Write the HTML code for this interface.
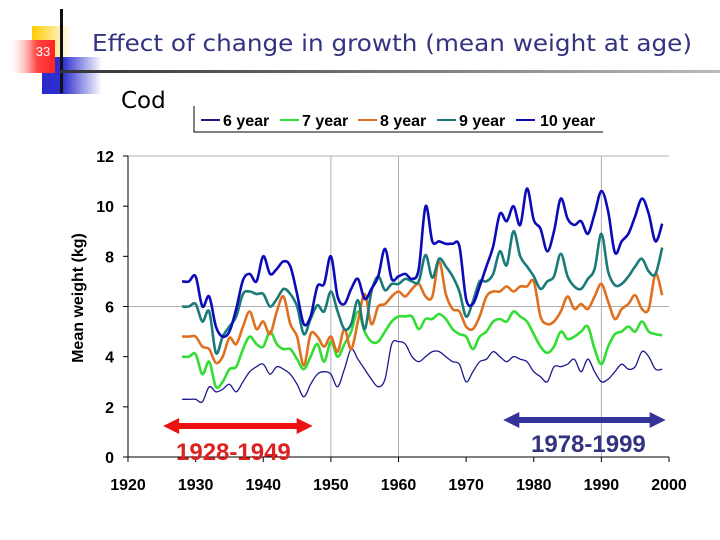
<!DOCTYPE html>
<html><head><meta charset="utf-8"><style>
body{margin:0;background:#fff;width:720px;height:540px;overflow:hidden}
svg{display:block}
text{font-family:"Liberation Sans",Arial,sans-serif}
</style></head><body>
<svg id="s" width="720" height="540" viewBox="0 0 720 540">
<defs>
<linearGradient id="gr" x1="0" x2="1"><stop offset="0" stop-color="#fff" stop-opacity="0.2"/><stop offset="0.6" stop-color="#f44"/><stop offset="1" stop-color="#f22"/></linearGradient>
<linearGradient id="gb" x1="0" x2="1"><stop offset="0" stop-color="#2a2acc"/><stop offset="0.35" stop-color="#3030d0"/><stop offset="1" stop-color="#fff"/></linearGradient>
<linearGradient id="gy" x1="0" x2="1"><stop offset="0" stop-color="#fc0"/><stop offset="1" stop-color="#fff"/></linearGradient>
<linearGradient id="gl" x1="0" x2="1"><stop offset="0" stop-color="#333"/><stop offset="1" stop-color="#bbb"/></linearGradient>
</defs>
<g>
<rect x="32" y="26" width="40" height="32" fill="url(#gy)"/>
<rect x="42" y="57" width="60" height="37" fill="url(#gb)"/>
<rect x="10" y="40" width="45" height="33" fill="url(#gr)"/>
<rect x="60" y="9" width="3" height="84" fill="#111"/>
<rect x="60" y="70" width="660" height="3" fill="url(#gl)"/>
<text x="43" y="56" font-size="13" fill="#fff" text-anchor="middle">33</text>
</g>
<text x="92" y="51" font-size="23" fill="#333380" textLength="600" lengthAdjust="spacingAndGlyphs" style="font-family:'DejaVu Sans',sans-serif">Effect of change in growth (mean weight at age)</text>
<text x="121" y="108" font-size="23" fill="#000" style="font-family:'DejaVu Sans',sans-serif">Cod</text>
<g>
<path d="M194 106V132H603" fill="none" stroke="#000" stroke-width="1"/>
</g>
<g id="plot"></g>
</svg>
<script>
const years=[];for(let y=1928;y<=1999;y++)years.push(y);
const seriesNames=["6 year","7 year","8 year","9 year","10 year"];
const w6=[2.3,2.3,2.3,2.2,2.8,2.6,2.7,2.9,2.6,3.0,3.4,3.6,3.7,3.3,3.6,3.5,3.3,2.9,2.4,2.9,3.3,3.4,3.3,2.8,3.5,4.3,3.9,3.5,3.1,2.8,3.1,4.5,4.6,4.5,4.0,3.8,4.0,4.2,4.2,4.0,3.8,3.7,3.0,3.4,3.8,3.9,4.2,4.0,3.8,4.0,3.9,3.8,3.4,3.2,3.0,3.6,3.6,3.7,3.9,3.4,3.9,3.4,3.0,3.1,3.4,3.7,3.5,3.6,4.2,4.0,3.5,3.5];
const w7=[4.0,4.0,4.1,3.3,3.8,2.8,3.0,3.5,3.6,4.3,4.8,4.5,4.4,5.0,4.5,4.3,4.3,3.9,3.5,4.0,4.5,3.8,4.6,4.0,4.5,5.0,5.8,5.0,4.6,4.6,5.0,5.4,5.6,5.6,5.6,5.1,5.5,5.5,5.7,5.5,5.1,4.9,4.8,4.3,4.8,5.0,5.4,5.5,5.4,5.8,5.6,5.4,4.9,4.4,4.15,4.4,5.0,4.7,4.8,5.0,5.2,4.3,3.7,4.4,4.9,5.0,5.2,5.0,5.4,5.0,4.9,4.85];
const w8=[4.8,4.8,4.8,4.4,4.3,3.75,4.0,4.75,4.5,5.2,5.8,5.1,5.4,4.9,5.8,6.4,5.3,4.8,3.65,4.9,4.8,4.4,4.8,4.2,5.1,4.3,5.4,6.5,5.3,6.0,6.1,6.4,6.6,6.4,6.7,6.9,6.4,6.4,7.8,6.5,5.9,5.8,5.2,5.1,5.6,6.4,6.6,6.6,6.8,6.6,6.8,6.8,7.0,5.6,5.3,5.4,5.8,6.4,5.9,6.1,5.9,6.4,6.9,6.2,5.5,5.9,6.1,6.45,5.9,5.9,7.3,6.45];
const w9=[6.0,6.0,6.1,5.4,5.8,4.15,4.8,5.2,5.6,6.5,6.6,6.5,6.5,6.0,6.3,6.7,6.5,6.0,4.9,5.5,6.05,5.8,6.6,5.8,5.1,5.3,6.25,5.1,6.6,7.2,6.65,6.9,6.9,7.1,7.0,7.0,8.05,7.15,7.9,7.6,7.2,6.6,5.6,6.2,7.0,7.0,7.3,8.2,7.65,9.0,8.0,7.6,7.2,6.7,7.0,7.2,8.1,7.2,6.8,6.7,7.1,7.5,8.9,7.4,6.85,6.9,7.2,7.6,7.9,7.4,7.3,8.35];
const w10=[7.0,7.0,7.2,6.0,6.4,5.2,4.8,5.0,5.9,7.05,7.3,7.0,8.0,7.3,7.5,7.8,7.6,6.5,5.3,5.6,6.8,6.9,8.0,6.4,6.1,6.7,7.1,6.3,6.7,7.2,8.3,7.1,7.2,7.3,7.1,7.5,10.0,8.6,8.6,8.5,8.5,8.4,6.3,6.1,6.8,7.6,8.4,9.7,9.4,10.0,9.25,10.7,9.45,9.1,8.2,9.0,10.3,9.5,9.25,9.4,8.9,9.7,10.6,9.8,8.15,8.6,8.9,9.6,10.3,9.7,8.6,9.3];
const yTicks=[0,2,4,6,8,10,12];
const xTicks=[1920,1930,1940,1950,1960,1970,1980,1990,2000];
const colors=["#1a1a8c","#33dd33","#e07020","#1a7a7a","#0b0bb8"];
const widths=[1.3,2.6,2.6,2.6,2.6];
const sx=v=>128+(v-1920)*(669-128)/80;
const sy=v=>457-v*(457-156)/12;
const NS="http://www.w3.org/2000/svg";
const plot=document.getElementById('plot');
const svg=document.getElementById('s');
function mk(tag,attrs,parent){const e=document.createElementNS(NS,tag);for(const k in attrs)e.setAttribute(k,attrs[k]);(parent||plot).appendChild(e);return e;}
mk('line',{x1:sx(1920),x2:sx(2000),y1:sy(12),y2:sy(12),stroke:'#b0b0b0','stroke-width':1});
mk('line',{x1:sx(1920),x2:sx(2000),y1:sy(6),y2:sy(6),stroke:'#b0b0b0','stroke-width':1});
[1950,1960,1990].forEach(y=>{mk('line',{x1:sx(y),x2:sx(y),y1:sy(12),y2:sy(0),stroke:'#b0b0b0','stroke-width':1});});
let ax=mk('line',{x1:sx(1920),x2:sx(1920),y1:sy(12),y2:sy(0)+5,stroke:'#000','stroke-width':1});


let bx=mk('line',{x1:sx(1920)-5,x2:sx(2000),y1:sy(0),y2:sy(0),stroke:'#000','stroke-width':1});


yTicks.forEach(v=>{
 mk('line',{x1:sx(1920)-5,x2:sx(1920),y1:sy(v),y2:sy(v),stroke:'#000'});
 const t=mk('text',{x:114,y:sy(v)+6,'font-size':16,'font-weight':'bold','text-anchor':'end'});
 t.textContent=v;
 
 
});
xTicks.forEach(v=>{
 mk('line',{x1:sx(v),x2:sx(v),y1:sy(0),y2:sy(0)+5,stroke:'#000'});
 const t=mk('text',{x:sx(v),y:490,'font-size':16,'font-weight':'bold','text-anchor':'middle'});
 t.textContent=v;
 
 
});
const yl=mk('text',{x:0,y:0,'font-size':16,'font-weight':'bold','text-anchor':'middle',transform:'translate(83,298) rotate(-90)'});
yl.textContent='Mean weight (kg)';


function smooth(pts){let d='M'+pts[0][0]+' '+pts[0][1];for(let i=0;i<pts.length-1;i++){const p0=pts[Math.max(0,i-1)],p1=pts[i],p2=pts[i+1],p3=pts[Math.min(pts.length-1,i+2)];const c1=[p1[0]+(p2[0]-p0[0])/6,p1[1]+(p2[1]-p0[1])/6],c2=[p2[0]-(p3[0]-p1[0])/6,p2[1]-(p3[1]-p1[1])/6];d+=' C'+c1[0].toFixed(1)+' '+c1[1].toFixed(1)+' '+c2[0].toFixed(1)+' '+c2[1].toFixed(1)+' '+p2[0].toFixed(1)+' '+p2[1].toFixed(1);}return d;}
const all=[w6,w7,w8,w9,w10];
[0,1,2,3,4].forEach(i=>{
 const pts=years.map((y,j)=>[sx(y),sy(all[i][j])]);
 const p=mk('path',{d:smooth(pts),fill:'none',stroke:colors[i],'stroke-width':widths[i],'stroke-linejoin':'round'});
 
 
});
const lx=[201,280,358,437,516],tx=[223,302,380,459,540];
seriesNames.forEach((n,i)=>{
 const l=mk('line',{x1:lx[i],x2:lx[i]+19,y1:120,y2:120,stroke:colors[i],'stroke-width':2},svg);
 
 
 const t=mk('text',{x:tx[i],y:126,'font-size':16,'font-weight':'bold'},svg);
 t.textContent=n;
 
 
});
function arrow(x1,x2,y,c,name){const g=mk('g',{},svg);
 mk('rect',{x:x1+12,y:y-3,width:x2-x1-24,height:6,fill:c},g);
 mk('polygon',{points:`${x1},${y} ${x1+16},${y-8} ${x1+16},${y+8}`,fill:c},g);
 mk('polygon',{points:`${x2},${y} ${x2-16},${y-8} ${x2-16},${y+8}`,fill:c},g);}
arrow(sx(1925.2),sx(1947.3),426,'#ee1111','arrow-1928-1949');
arrow(sx(1975.5),sx(1999.5),420,'#333399','arrow-1978-1999');
const r=mk('text',{x:176,y:460,'font-size':24,'font-weight':'bold',fill:'#dd2222'},svg);
r.textContent='1928-1949';


const b=mk('text',{x:531,y:452,'font-size':24,'font-weight':'bold',fill:'#333380'},svg);
b.textContent='1978-1999';


</script>
</body></html>
